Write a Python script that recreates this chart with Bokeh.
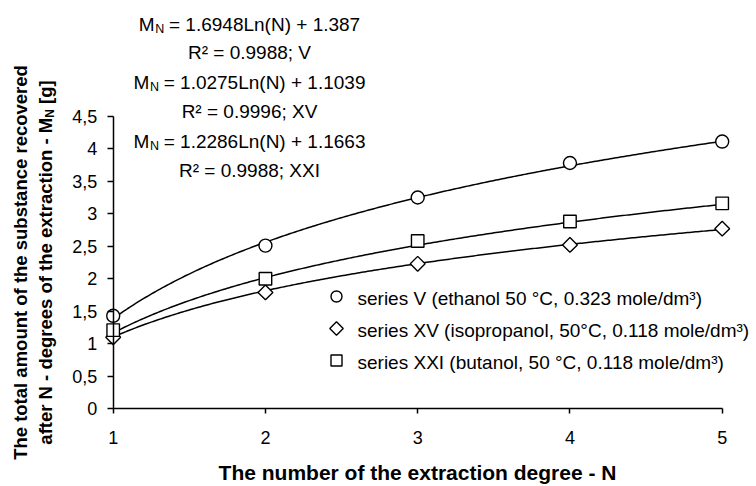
import numpy as np
from bokeh.plotting import figure
from bokeh.models import Range1d, FixedTicker, Label
from bokeh.embed import file_html
from bokeh.resources import INLINE

# ---------------- data ----------------
N = [1, 2, 3, 4, 5]
series_V = [1.43, 2.51, 3.25, 3.78, 4.11]
series_XV = [1.10, 1.79, 2.23, 2.52, 2.77]
series_XXI = [1.21, 2.00, 2.58, 2.88, 3.16]

fit_slope = [1.6948, 1.0275, 1.2286]
fit_intercept = [1.387, 1.1039, 1.1663]
fit_r2 = ["0.9988", "0.9996", "0.9988"]
series_names = ["V", "XV", "XXI"]

legend_labels = [
    "series V (ethanol 50 \u00b0C, 0.323 mole/dm\u00b3)",
    "series XV (isopropanol, 50\u00b0C, 0.118 mole/dm\u00b3)",
    "series XXI (butanol, 50 \u00b0C, 0.118 mole/dm\u00b3)",
]

x_ticks = [1, 2, 3, 4, 5]
y_ticks = [0, 0.5, 1, 1.5, 2, 2.5, 3, 3.5, 4, 4.5]
y_tick_labels = ["0", "0,5", "1", "1,5", "2", "2,5", "3", "3,5", "4", "4,5"]

x_title = "The number of the extraction degree - N"
y_title_1 = "The total amount of the substance recovered"
y_title_2 = "after N - degrees of the extraction - M"

# ---------------- layout helpers ----------------
FONT = "Liberation Sans"
W, H = 756, 486
X_AT_1, X_AT_5 = 112.7, 721.7      # pixel columns of N=1 and N=5
Y_AT_0, Y_AT_45 = 408.3, 115.7     # pixel rows of 0 and 4.5
PPX = (X_AT_5 - X_AT_1) / 4
PPY = (Y_AT_0 - Y_AT_45) / 4.5


def dx(px):
    return 1 + (px - X_AT_1) / PPX


def dy(py):
    return (Y_AT_0 - py) / PPY


REG = {" ": .278, ".": .278, "=": .584, "+": .584, "(": .333, ")": .333,
       "L": .556, "n": .556, "N": .722, "M": .833}
BOLD = {" ": .278, "-": .333, "[": .333, "]": .333, "a": .556, "c": .556,
        "d": .611, "e": .556, "f": .333, "g": .611, "h": .611, "i": .278,
        "n": .611, "o": .611, "r": .389, "s": .556, "t": .333, "x": .556,
        "M": .833, "N": .722}


def text_w(s, size, table):
    return sum(table.get(c, .556) for c in s) * size


p = figure(width=W, height=H, output_backend="svg", toolbar_location=None,
           x_range=Range1d(dx(0), dx(W)), y_range=Range1d(dy(H), dy(0)),
           min_border=0, min_border_left=0, min_border_right=0,
           min_border_top=0, min_border_bottom=0)
p.outline_line_color = None
p.xgrid.visible = False
p.ygrid.visible = False
p.background_fill_color = "white"
p.border_fill_color = "white"

# x axis
xa = p.xaxis[0]
xa.fixed_location = 0
xa.bounds = (1, 5)
xa.ticker = FixedTicker(ticks=x_ticks)
xa.axis_line_color = "black"
xa.axis_line_width = 1.5
xa.major_tick_in = 0
xa.major_tick_out = 5
xa.major_tick_line_width = 1.5
xa.minor_tick_line_color = None
xa.major_label_standoff = 17
xa.major_label_text_font = FONT
xa.major_label_text_font_size = "18px"
xa.major_label_text_color = "black"

# y axis
ya = p.yaxis[0]
ya.fixed_location = 1
ya.bounds = (0, 4.5)
ya.ticker = FixedTicker(ticks=y_ticks)
ya.major_label_overrides = {t: l for t, l in zip(y_ticks, y_tick_labels)}
ya.axis_line_color = "black"
ya.axis_line_width = 1.5
ya.major_tick_in = 0
ya.major_tick_out = 6
ya.major_tick_line_width = 1.5
ya.minor_tick_line_color = None
ya.major_label_standoff = 10
ya.major_label_text_font = FONT
ya.major_label_text_font_size = "18px"
ya.major_label_text_color = "black"

# trend lines from the displayed equations
xs = np.linspace(1, 5, 300)
for a, b in zip(fit_slope, fit_intercept):
    p.line(xs, a * np.log(xs) + b, line_color="black", line_width=1.5)

mk = dict(fill_color="white", line_color="black", line_width=1.4)
p.scatter(N, series_V, marker="circle", size=13, **mk)
p.scatter(N, series_XV, marker="square", angle=np.pi / 4, size=10.5, **mk)
p.scatter(N, series_XXI, marker="square", size=12.5, **mk)

# legend (keys + labels)
LEG_KEY_X, LEG_TXT_X = 336, 357
leg_rows = [296, 328, 360]
leg_markers = [dict(marker="circle", size=11), dict(marker="square", angle=np.pi / 4, size=9.5),
               dict(marker="square", size=11)]
for row_y, lab, spec in zip(leg_rows, legend_labels, leg_markers):
    p.scatter([dx(LEG_KEY_X)], [dy(row_y)], **spec, **mk)
    p.add_layout(Label(x=dx(LEG_TXT_X), y=dy(row_y + 2), text=lab, text_align="left",
                       text_baseline="middle", text_font=FONT, text_font_size="19px",
                       text_color="black"))

# equations
EQ_CX = 249
EQ_SIZE, SUB_SIZE = 19, 12.5
eq_rows = [(24, 52), (82, 111), (141, 170)]
for (ym, yr), a, b, r2, nm in zip(eq_rows, fit_slope, fit_intercept, fit_r2, series_names):
    rest = f"= {a}Ln(N) + {b}"
    w_m = text_w("M", EQ_SIZE, REG)
    w_n = text_w("N", SUB_SIZE, REG)
    w_sp = text_w(" ", EQ_SIZE, REG)
    total = w_m + w_n + w_sp + text_w(rest, EQ_SIZE, REG)
    P = EQ_CX - total / 2 + w_m
    common = dict(text_font=FONT, text_color="black", text_baseline="middle")
    p.add_layout(Label(x=dx(P), y=dy(ym), text="M", text_align="right",
                       text_font_size=f"{EQ_SIZE}px", **common))
    p.add_layout(Label(x=dx(P + 0.5), y=dy(ym + 4), text="N", text_align="left",
                       text_font_size=f"{SUB_SIZE}px", **common))
    p.add_layout(Label(x=dx(P + w_n + w_sp), y=dy(ym), text=rest, text_align="left",
                       text_font_size=f"{EQ_SIZE}px", **common))
    p.add_layout(Label(x=dx(EQ_CX), y=dy(yr), text=f"R\u00b2 = {r2}; {nm}",
                       text_align="center", text_font_size=f"{EQ_SIZE}px", **common))

# x axis title
p.add_layout(Label(x=dx(417), y=dy(472), text=x_title, text_align="center",
                   text_baseline="middle", text_font=FONT, text_font_style="bold",
                   text_font_size="21px", text_color="black"))

# y axis title: two rotated lines
YT_SIZE, YT_SUB = 18.5, 12
rot = dict(angle=np.pi / 2, angle_units="rad", text_font=FONT, text_font_style="bold",
           text_color="black", text_baseline="middle")
p.add_layout(Label(x=dx(20), y=dy(262), text=y_title_1, text_align="center",
                   text_font_size=f"{YT_SIZE}px", **rot))
w_a = text_w(y_title_2, YT_SIZE, BOLD)
w_n2 = text_w("N", YT_SUB, BOLD)
w_sp2 = text_w(" ", YT_SIZE, BOLD)
w_g = text_w("[g]", YT_SIZE, BOLD)
start = 262 + (w_a + w_n2 + w_sp2 + w_g) / 2
a_end = start - w_a
p.add_layout(Label(x=dx(45), y=dy(a_end), text=y_title_2, text_align="right",
                   text_font_size=f"{YT_SIZE}px", **rot))
p.add_layout(Label(x=dx(49), y=dy(a_end), text="N", text_align="left",
                   text_font_size=f"{YT_SUB}px", **rot))
p.add_layout(Label(x=dx(45), y=dy(a_end - w_n2 - w_sp2), text="[g]", text_align="left",
                   text_font_size=f"{YT_SIZE}px", **rot))

open("out.html", "w").write(file_html(p, INLINE))
